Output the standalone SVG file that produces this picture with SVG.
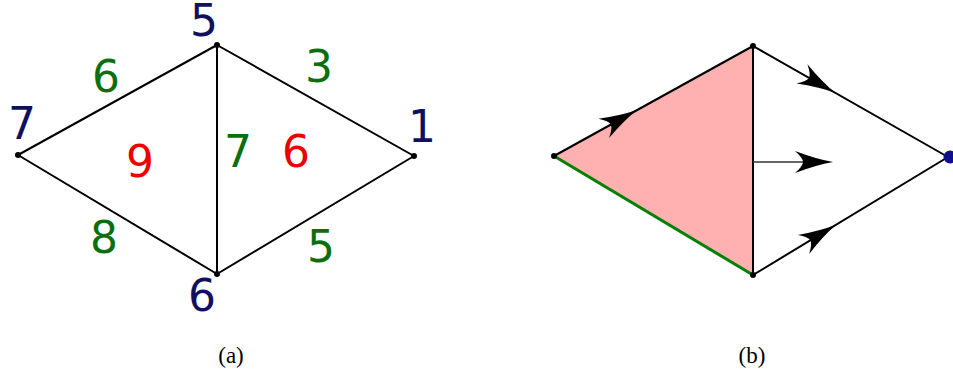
<svg xmlns="http://www.w3.org/2000/svg" width="953" height="370" viewBox="0 0 953 370">
<style>
.e{stroke:#000;stroke-width:2;fill:none}
.v{fill:#000}
.n{font-family:"DejaVu Sans",sans-serif;font-size:44px;text-anchor:middle}
.b{fill:#10105e}
.g{fill:#0c6e0c}
.r{fill:#ee0000}
.cap{font-family:"Liberation Serif",serif;font-size:23px;text-anchor:middle;fill:#000}
</style>
<defs>
<path id="ah" d="M0,0 Q-17,-3 -38,-11 Q-30,-4 -30,0 Q-30,4 -38,11 Q-17,3 0,0 Z" fill="#000"/>
</defs>
<g id="a">
<g id="edges-a">
<line class="e" x1="217" y1="45" x2="18" y2="155"/>
<line class="e" x1="217" y1="45" x2="414" y2="156"/>
<line class="e" x1="217" y1="45" x2="217" y2="274"/>
<line class="e" x1="18" y1="155" x2="217" y2="274"/>
<line class="e" x1="414" y1="156" x2="217" y2="274"/>
</g>
<g id="node-5"><circle class="v" cx="217" cy="45" r="3"/><text class="n b" x="204" y="36">5</text></g>
<g id="node-7"><circle class="v" cx="18" cy="155" r="3"/><text class="n b" x="22" y="139">7</text></g>
<g id="node-1"><circle class="v" cx="414" cy="156" r="3"/><text class="n b" x="422" y="142">1</text></g>
<g id="node-6"><circle class="v" cx="217" cy="274" r="3"/><text class="n b" x="202" y="311">6</text></g>
<g id="labels-a">
<text class="n g" x="106" y="92">6</text>
<text class="n g" x="319" y="82">3</text>
<text class="n r" x="140" y="177">9</text>
<text class="n g" x="238" y="167">7</text>
<text class="n r" x="296" y="167">6</text>
<text class="n g" x="104" y="253">8</text>
<text class="n g" x="321" y="262">5</text>
</g>
<text class="cap" x="231" y="363">(a)</text>
</g>
<g id="b">
<polygon points="554,156 753,46 753,275" fill="#ffb0b0"/>
<g id="edges-b">
<line class="e" x1="554" y1="156" x2="753" y2="46"/>
<line x1="554" y1="156" x2="753" y2="275" stroke="#008000" stroke-width="3"/>
<line class="e" x1="753" y1="46" x2="753" y2="275"/>
<line class="e" x1="753" y1="46" x2="948" y2="157"/>
<line class="e" x1="753" y1="275" x2="948" y2="157"/>
<line x1="753" y1="162" x2="815" y2="162" stroke="#333" stroke-width="1.5"/>
<use href="#ah" transform="translate(637,110) rotate(-28.9)"/>
<use href="#ah" transform="translate(835,92.7) rotate(29.65)"/>
<use href="#ah" transform="translate(833,162) rotate(0)"/>
<use href="#ah" transform="translate(836,224.8) rotate(-31.2)"/>
</g>
<circle class="v" cx="554" cy="156" r="3"/>
<circle class="v" cx="753" cy="46" r="3"/>
<circle class="v" cx="753" cy="275" r="3"/>
<circle cx="950" cy="157" r="6.5" fill="#10108a"/>
<text class="cap" x="752" y="363">(b)</text>
</g>
</svg>
